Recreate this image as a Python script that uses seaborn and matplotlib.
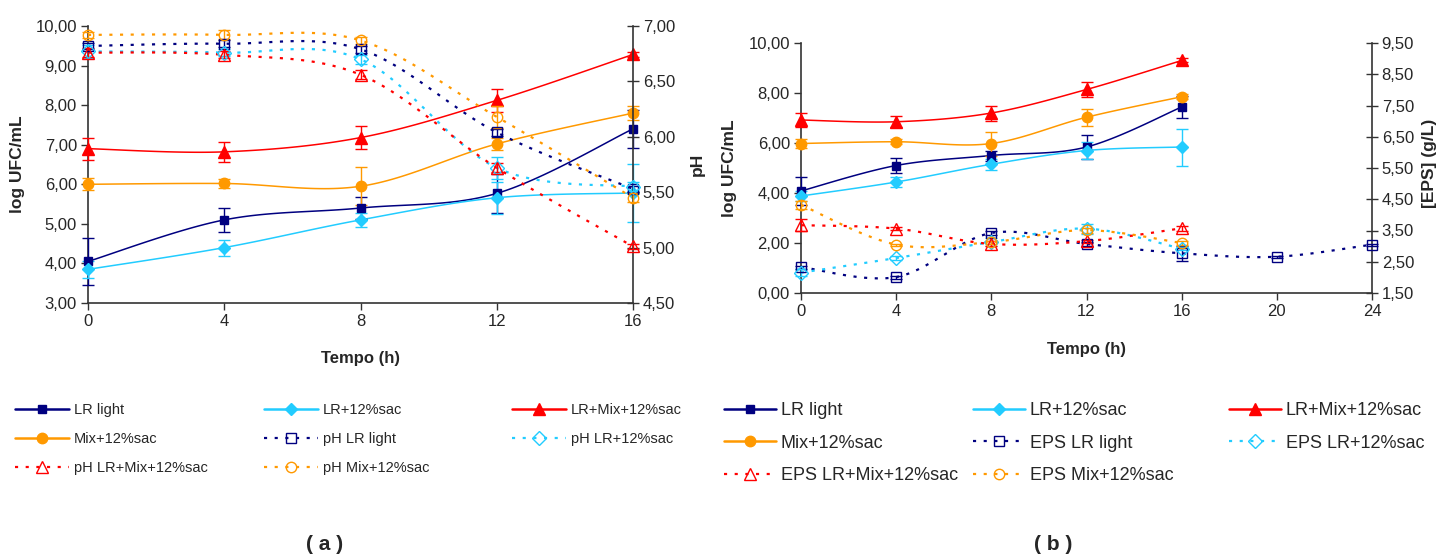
import numpy as np
import pandas as pd
import matplotlib
matplotlib.use("Agg")
import matplotlib.pyplot as plt
import seaborn as sns
from matplotlib.lines import Line2D
from matplotlib.ticker import FuncFormatter, FixedLocator

# ---------------- data ----------------
# (a) growth (log UFC/mL) and pH during fermentation
time_a = [0, 4, 8, 12, 16]
lr_light_a = [4.05, 5.10, 5.40, 5.77, 7.40]
lr_light_a_err = [0.60, 0.30, 0.27, 0.50, 0.48]
lr_sac_a = [3.85, 4.40, 5.10, 5.66, 5.78]
lr_sac_a_err = [0.22, 0.20, 0.18, 0.40, 0.74]
lr_mix_a = [6.90, 6.82, 7.18, 8.12, 9.28]
lr_mix_a_err = [0.28, 0.25, 0.30, 0.30, 0.07]
mix_a = [6.00, 6.02, 5.95, 7.02, 7.80]
mix_a_err = [0.15, 0.12, 0.48, 0.15, 0.18]

ph_lr_light = [6.82, 6.84, 6.79, 6.04, 5.53]
ph_lr_light_err = [0.03, 0.03, 0.03, 0.03, 0.03]
ph_lr_sac = [6.77, 6.76, 6.70, 5.72, 5.55]
ph_lr_sac_err = [0.06, 0.03, 0.04, 0.10, 0.04]
ph_lr_mix = [6.76, 6.74, 6.56, 5.72, 5.01]
ph_lr_mix_err = [0.04, 0.03, 0.04, 0.04, 0.02]
ph_mix = [6.92, 6.92, 6.87, 6.18, 5.45]
ph_mix_err = [0.03, 0.04, 0.03, 0.10, 0.04]

# (b) growth (log UFC/mL) and EPS concentration
time_b = [0, 4, 8, 12, 16]
lr_light_b = [4.08, 5.10, 5.50, 5.84, 7.44]
lr_light_b_err = [0.55, 0.30, 0.20, 0.48, 0.44]
lr_sac_b = [3.88, 4.44, 5.15, 5.70, 5.84]
lr_sac_b_err = [0.20, 0.20, 0.22, 0.35, 0.74]
lr_mix_b = [6.92, 6.85, 7.20, 8.14, 9.30]
lr_mix_b_err = [0.28, 0.22, 0.30, 0.30, 0.08]
mix_b = [5.98, 6.05, 5.98, 7.03, 7.85]
mix_b_err = [0.18, 0.10, 0.48, 0.35, 0.10]

time_eps_light = [0, 4, 8, 12, 16, 20, 24]
eps_lr_light = [2.33, 2.01, 3.42, 3.07, 2.77, 2.66, 3.05]
eps_lr_light_err = [0.05, 0.05, 0.05, 0.06, 0.25, 0.03, 0.03]
eps_lr_sac = [2.15, 2.62, 3.13, 3.56, 2.92]
eps_lr_sac_err = [0.12, 0.05, 0.12, 0.16, 0.05]
eps_lr_mix = [3.67, 3.56, 3.07, 3.16, 3.57]
eps_lr_mix_err = [0.20, 0.05, 0.08, 0.05, 0.08]
eps_mix = [4.32, 3.05, 3.13, 3.51, 3.10]
eps_mix_err = [0.14, 0.03, 0.05, 0.08, 0.05]

labels_a = ["LR light", "LR+12%sac", "LR+Mix+12%sac", "Mix+12%sac",
            "pH LR light", "pH LR+12%sac", "pH LR+Mix+12%sac", "pH Mix+12%sac"]
labels_b = ["LR light", "LR+12%sac", "LR+Mix+12%sac", "Mix+12%sac",
            "EPS LR light", "EPS LR+12%sac", "EPS LR+Mix+12%sac", "EPS Mix+12%sac"]

# ---------------- style ----------------
sns.set_style("white")
plt.rcParams["font.family"] = ["Liberation Sans", "DejaVu Sans"]

NAVY = "#000080"
CYAN = "#22CCFF"
RED = "#FF0000"
ORANGE = "#FF9900"
DOT = (0, (1.4, 3.4))

solid_style = [(NAVY, "s", 6.0), (CYAN, "D", 6.0), (RED, "^", 8.0), (ORANGE, "o", 7.5)]
open_style = [(NAVY, "s", 7.0), (CYAN, "D", 7.0), (RED, "^", 8.5), (ORANGE, "o", 7.5)]

W, H = 1439, 556


def px_box(x0, y0, x1, y1):
    return [x0 / W, 1 - y1 / H, (x1 - x0) / W, (y1 - y0) / H]


def smooth_curve(x, y, steps=30):
    """Smoothed polyline through the points (Bezier / Catmull-Rom style)."""
    P = np.column_stack([np.asarray(x, float), np.asarray(y, float)])
    Pp = np.vstack([P[0], P, P[-1]])
    xs, ys = [], []
    n = len(P)
    for i in range(n - 1):
        p0, p1, p2, p3 = Pp[i], Pp[i + 1], Pp[i + 2], Pp[i + 3]
        c1 = p1 + (p2 - p0) / 6.0
        c2 = p2 - (p3 - p1) / 6.0
        t = np.linspace(0, 1, steps, endpoint=(i == n - 2))[:, None]
        pts = ((1 - t) ** 3) * p1 + 3 * ((1 - t) ** 2) * t * c1 + 3 * (1 - t) * t ** 2 * c2 + t ** 3 * p2
        xs.append(pts[:, 0])
        ys.append(pts[:, 1])
    return np.concatenate(xs), np.concatenate(ys)


def draw_series(ax, x, y, err, color, marker, ms, dotted):
    xs, ys = smooth_curve(x, y)
    curve = pd.DataFrame({"t": xs, "v": ys})
    if dotted:
        sns.lineplot(data=curve, x="t", y="v", ax=ax, color=color, lw=1.6,
                     linestyle=DOT, sort=False, estimator=None, zorder=2)
    else:
        sns.lineplot(data=curve, x="t", y="v", ax=ax, color=color, lw=1.1,
                     sort=False, estimator=None, zorder=2)
    ax.errorbar(x, y, yerr=err, fmt="none", ecolor=color, elinewidth=1.0,
                capsize=4, capthick=1.0, zorder=3, clip_on=False)
    if dotted:
        ax.plot(x, y, ls="none", marker=marker, ms=ms, mfc="none", mec=color,
                mew=1.0, zorder=4, clip_on=False)
    else:
        ax.plot(x, y, ls="none", marker=marker, ms=ms, mfc=color, mec=color,
                mew=1.0, zorder=4, clip_on=False)


def comma_fmt(v, _pos):
    return f"{v:.2f}".replace(".", ",")


def style_axes(ax, ax2, xticks, yticks, y2ticks):
    ax.set_xlim(xticks[0], xticks[-1])
    ax.set_ylim(yticks[0], yticks[-1])
    ax2.set_ylim(y2ticks[0], y2ticks[-1])
    ax.xaxis.set_major_locator(FixedLocator(xticks))
    ax.yaxis.set_major_locator(FixedLocator(yticks))
    ax2.yaxis.set_major_locator(FixedLocator(y2ticks))
    ax.yaxis.set_major_formatter(FuncFormatter(comma_fmt))
    ax2.yaxis.set_major_formatter(FuncFormatter(comma_fmt))
    for s in ("top", "right"):
        ax.spines[s].set_visible(False)
    for s in ("top", "left", "bottom"):
        ax2.spines[s].set_visible(False)
    for s in ("left", "bottom"):
        ax.spines[s].set_color("#333333")
        ax.spines[s].set_linewidth(1.2)
    ax2.spines["right"].set_color("#333333")
    ax2.spines["right"].set_linewidth(1.2)
    ax.tick_params(axis="both", direction="out", length=5, width=1,
                   color="#333333", labelsize=12, pad=3, left=True, bottom=True)
    ax2.tick_params(axis="y", direction="inout", length=8, width=1,
                    color="#333333", labelsize=12, pad=3, right=True)
    ax.grid(False)
    ax2.grid(False)
    ax.set_facecolor("none")


fig = plt.figure(figsize=(W / 100, H / 100), dpi=100)

# ---------------- panel (a) ----------------
axA = fig.add_axes(px_box(88, 26, 633, 303))
axA2 = axA.twinx()

growth_a = [(lr_light_a, lr_light_a_err), (lr_sac_a, lr_sac_a_err),
            (lr_mix_a, lr_mix_a_err), (mix_a, mix_a_err)]
ph_a = [(ph_lr_light, ph_lr_light_err), (ph_lr_sac, ph_lr_sac_err),
        (ph_lr_mix, ph_lr_mix_err), (ph_mix, ph_mix_err)]

for (vals, err), (c, m, ms) in zip(growth_a, solid_style):
    draw_series(axA, time_a, vals, err, c, m, ms, dotted=False)
for (vals, err), (c, m, ms) in zip(ph_a, open_style):
    draw_series(axA2, time_a, vals, err, c, m, ms, dotted=True)

style_axes(axA, axA2, [0, 4, 8, 12, 16], [3, 4, 5, 6, 7, 8, 9, 10],
           [4.5, 5.0, 5.5, 6.0, 6.5, 7.0])
axA.set_xlabel("Tempo (h)", fontsize=12, fontweight="bold")
axA.set_ylabel("log UFC/mL", fontsize=12.5, fontweight="bold")
axA2.set_ylabel("pH", fontsize=12.5, fontweight="bold", rotation=90)
axA.xaxis.set_label_coords(0.5, -0.172)
axA.yaxis.set_label_coords(-0.116, 0.5)
axA2.yaxis.set_label_coords(1.104, 0.5)

# ---------------- panel (b) ----------------
axB = fig.add_axes(px_box(801, 43, 1372, 293))
axB2 = axB.twinx()

growth_b = [(lr_light_b, lr_light_b_err), (lr_sac_b, lr_sac_b_err),
            (lr_mix_b, lr_mix_b_err), (mix_b, mix_b_err)]
for (vals, err), (c, m, ms) in zip(growth_b, solid_style):
    draw_series(axB, time_b, vals, err, c, m, ms, dotted=False)

eps_sets = [(time_eps_light, eps_lr_light, eps_lr_light_err),
            (time_b, eps_lr_sac, eps_lr_sac_err),
            (time_b, eps_lr_mix, eps_lr_mix_err),
            (time_b, eps_mix, eps_mix_err)]
for (tt, vals, err), (c, m, ms) in zip(eps_sets, open_style):
    draw_series(axB2, tt, vals, err, c, m, ms, dotted=True)

style_axes(axB, axB2, [0, 4, 8, 12, 16, 20, 24], [0, 2, 4, 6, 8, 10],
           [1.5, 2.5, 3.5, 4.5, 5.5, 6.5, 7.5, 8.5, 9.5])
axB.set_xlabel("Tempo (h)", fontsize=12, fontweight="bold")
axB.set_ylabel("log UFC/mL", fontsize=12.5, fontweight="bold")
axB2.set_ylabel("[EPS] (g/L)", fontsize=12.5, fontweight="bold", rotation=90)
axB.xaxis.set_label_coords(0.5, -0.196)
axB.yaxis.set_label_coords(-0.112, 0.5)
axB2.yaxis.set_label_coords(1.0876, 0.52)


# ---------------- legends ----------------
def handle(i):
    if i < 4:
        c, m, ms = solid_style[i]
        return Line2D([], [], color=c, lw=1.8, alpha=1, marker=m, ms=ms,
                      mfc=c, mec=c)
    c, m, ms = open_style[i - 4]
    return Line2D([], [], color=c, lw=1.6, ls=DOT, marker=m, ms=ms,
                  mfc="none", mec=c)


def legend_columns(labels, col_x, top_y, fontsize, spacing, hlen, pad):
    # three columns, rows filled left to right
    for col, x0 in enumerate(col_x):
        idx = [i for i in range(len(labels)) if i % 3 == col]
        fig.legend([handle(i) for i in idx], [labels[i] for i in idx],
                   loc="upper left", bbox_to_anchor=(x0 / W, 1 - top_y / H),
                   frameon=False, fontsize=fontsize, labelspacing=spacing,
                   handlelength=hlen, handletextpad=pad, borderpad=0,
                   borderaxespad=0, numpoints=1)


legend_columns(labels_a, [15, 264, 512], 403, 10.5, 1.02, 3.7, 0.35)
legend_columns(labels_b, [724, 973, 1229], 402, 13, 0.86, 2.9, 0.25)

fig.text(325 / W, 1 - 545 / H, "( a )", fontsize=15, fontweight="bold",
         ha="center", va="center")
fig.text(1053 / W, 1 - 545 / H, "( b )", fontsize=15, fontweight="bold",
         ha="center", va="center")

fig.savefig("out.png", dpi=100, facecolor="white")
